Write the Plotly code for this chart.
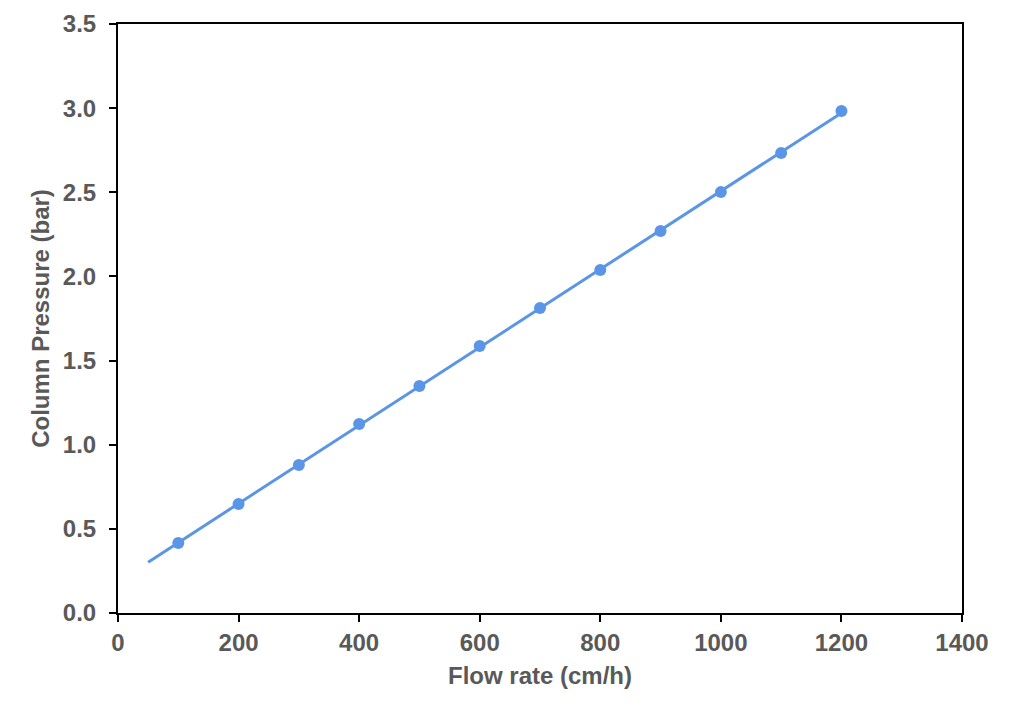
import numpy as np
import plotly.graph_objects as go

flow_rate = [100, 200, 300, 400, 500, 600, 700, 800, 900, 1000, 1100, 1200]
pressure = [0.416, 0.648, 0.879, 1.123, 1.349, 1.586, 1.812, 2.038, 2.270, 2.501, 2.733, 2.983]
trend_x_range = [50, 1200]

slope, intercept = np.polyfit(flow_rate, pressure, 1)
tx = np.array(trend_x_range, dtype=float)
ty = slope * tx + intercept

color = "#5B95E8"
font_color = "#595959"
fam = "Liberation Sans, Arial, sans-serif"

fig = go.Figure()
fig.add_trace(go.Scatter(x=tx, y=ty, mode="lines", line=dict(color=color, width=3), showlegend=False))
fig.add_trace(go.Scatter(x=flow_rate, y=pressure, mode="markers", marker=dict(color=color, size=12), showlegend=False))

axis_common = dict(
    showline=True, linecolor="black", linewidth=2, mirror=True,
    ticks="outside", ticklen=7, tickwidth=2, tickcolor="black",
    showgrid=False, zeroline=False, automargin=False,
    tickfont=dict(family=fam, size=24, color=font_color, weight="bold"),
)
fig.update_xaxes(range=[0, 1400], dtick=200, tick0=0,
                 title=dict(text="<b>Flow rate (cm/h)</b>", font=dict(family=fam, size=24, color=font_color), standoff=12),
                 **axis_common)
fig.update_yaxes(range=[0, 3.5], dtick=0.5, tick0=0, tickformat=".1f", ticklabelstandoff=8,
                 title=dict(text="<b>Column Pressure (bar)</b>", font=dict(family=fam, size=24, color=font_color), standoff=6),
                 **axis_common)
fig.update_layout(
    width=1012, height=718,
    margin=dict(l=110, r=58, t=16, b=113, autoexpand=False),
    plot_bgcolor="white", paper_bgcolor="white",
    font=dict(family=fam, color=font_color),
)
fig.write_html("out.html")
